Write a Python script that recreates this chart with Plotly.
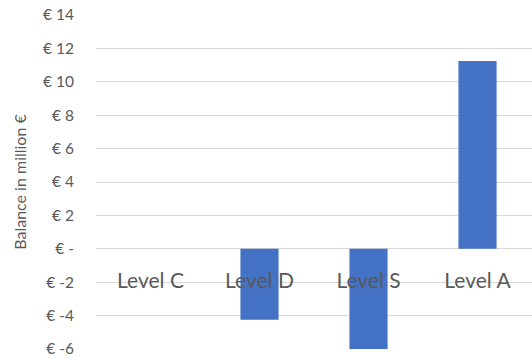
import plotly.graph_objects as go

categories = ["Level C", "Level D", "Level S", "Level A"]
balance = [0.0, -4.25, -6.0, 11.25]
tick_vals = [14, 12, 10, 8, 6, 4, 2, 0, -2, -4, -6]
tick_text = ["€ 14", "€ 12", "€ 10", "€ 8", "€ 6", "€ 4", "€ 2", "€ -", "€ -2", "€ -4", "€ -6"]

fig = go.Figure(go.Bar(
    x=categories, y=balance, width=0.35,
    marker=dict(color="#4472C4", line=dict(width=0)),
))

fig.update_layout(
    width=532, height=360,
    margin=dict(l=96, r=0, t=15, b=11),
    paper_bgcolor="white", plot_bgcolor="white",
    showlegend=False,
    font=dict(family="Lato", color="#595959"),
    xaxis=dict(
        anchor="free", position=0.3, showgrid=False, showline=False,
        zeroline=False, ticks="", ticklabelstandoff=17,
        tickfont=dict(size=21, color="#595959"),
    ),
    yaxis=dict(
        range=[-6, 14], domain=[0, 1], tickvals=tick_vals, ticktext=tick_text,
        showgrid=True, gridcolor="#D9D9D9", gridwidth=1, zeroline=False,
        showline=False, ticks="", ticklabelstandoff=21,
        tickfont=dict(size=15.5, color="#595959"),
        title=dict(text="Balance in million €", font=dict(size=16, color="#595959"), standoff=12),
    ),
)

fig.write_html("out.html")
